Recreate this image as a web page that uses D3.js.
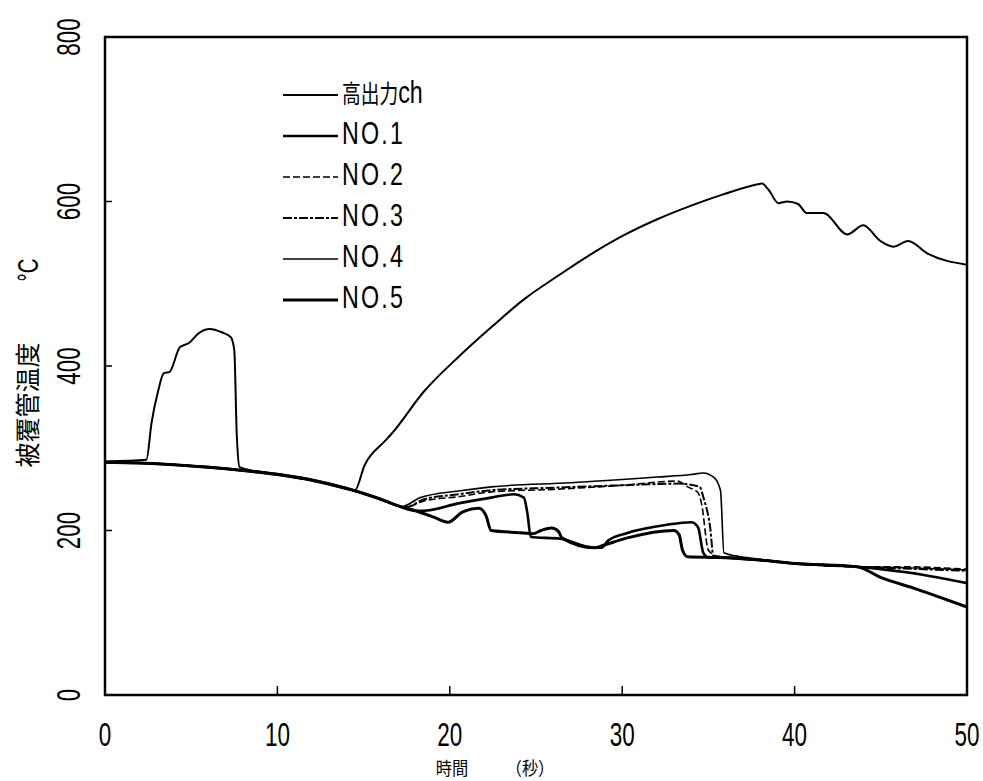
<!DOCTYPE html>
<html>
<head>
<meta charset="utf-8">
<script src="https://cdn.jsdelivr.net/npm/d3@7"></script>
<style>
  html, body { margin: 0; padding: 0; background: #fff; }
  svg { display: block; }
  .num { font-family: "Liberation Sans", "DejaVu Sans", sans-serif; fill: #000; }
  .jp { font-family: "Noto Sans CJK JP", "Noto Sans", sans-serif; fill: #000; }
</style>
</head>
<body>
<svg id="chart" width="983" height="781"></svg>
<script>
// ---- data (time s, cladding temp °C) ----
const xTicks = [0, 10, 20, 30, 40, 50];
const yTicks = [0, 200, 400, 600, 800];

const legendNames = ['高出力ch', 'NO.1', 'NO.2', 'NO.3', 'NO.4', 'NO.5'];

const hcTime = [0, 2.4, 2.7, 3.1, 3.4, 3.75, 4.35, 4.87, 5.44, 6.08, 6.77, 7.3, 7.5, 7.64, 7.81, 8.3, 10, 12, 14, 14.5,
  15.05, 16.2, 16.6, 18.5, 20.5, 22.4, 24.3, 26.3, 28.2, 30.1, 32.1, 34, 35.9, 37.85, 38.1, 38.5, 39.06, 39.58, 40.2, 40.7,
  41.67, 43.06, 43.98, 44.97, 45.72, 46.59, 47.69, 50];
const hcTemp = [284, 286, 331, 371, 391, 393, 423, 428, 440, 445, 441, 435, 419, 318, 277, 274, 269, 262, 252, 249,
  279, 308, 317, 369, 411, 447, 481, 510, 536, 559, 579, 595, 609, 621, 622, 614, 598, 600, 597, 586,
  586, 560, 571, 552, 545, 552, 537, 523];

const no1Time = [0, 2, 4, 6, 8, 10, 12, 14, 15, 16, 17, 18, 18.5, 20.5, 22.4, 23.7, 24.3, 24.5, 24.7, 26.4, 28.4, 28.8,
  29.2, 30.3, 32.6, 34, 34.4, 34.7, 35, 36, 38, 40, 43.6, 45, 47.5, 50];
const no1Temp = [283, 282, 280, 277, 273, 268, 261, 251, 245, 238, 230, 224, 224, 233, 240, 244, 240, 221, 192, 190, 179, 179,
  188, 197, 207, 210, 204, 173, 167, 167, 164, 160, 156, 153, 146, 136];

const no2Time = [0, 2, 4, 6, 8, 10, 12, 14, 15, 16, 17, 17.4, 18.5, 20.5, 22.4, 26, 30, 33.2, 33.8, 34.4, 34.6, 35.0,
  35.5, 37, 40, 43.5, 46, 50];
const no2Temp = [283, 282, 280, 277, 273, 268, 261, 251, 245, 238, 230, 228, 236, 241, 247, 250, 255, 260, 253, 246, 233, 176,
  169, 166, 160, 156, 156, 153];

const no3Time = [0, 2, 4, 6, 8, 10, 12, 14, 15, 16, 17, 17.4, 18.5, 20.5, 22.4, 26, 30, 33.3, 34.5, 34.7, 35.1, 35.3,
  36, 38, 40, 43.5, 46, 50];
const no3Temp = [283, 282, 280, 277, 273, 268, 261, 251, 245, 238, 230, 228, 238, 244, 249, 252, 255, 257, 253, 241, 204, 168,
  167, 164, 160, 156, 154, 151];

const no4Time = [0, 2, 4, 6, 8, 10, 12, 14, 15, 16, 17, 17.2, 18.3, 20.5, 22.4, 27, 30, 32, 34, 34.7, 35.3, 35.7, 35.9,
  36.9, 38, 40, 43.5, 46, 50];
const no4Temp = [283, 282, 280, 277, 273, 268, 261, 251, 245, 238, 230, 229, 240, 248, 253, 258, 262, 265, 268, 270, 265, 249, 173,
  168, 165, 160, 156, 155, 152];

const no5Time = [0, 2, 4, 6, 8, 10, 12, 14, 15, 16, 17, 18, 19.1, 19.9, 20.7, 21.7, 22.1, 22.4, 24.3, 24.8, 25.3, 25.9,
  26.3, 26.5, 28.4, 28.9, 30.3, 33, 33.3, 33.5, 33.8, 36, 38, 40, 43.6, 45.1, 46.9, 48.4, 50];
const no5Temp = [283, 282, 280, 277, 273, 268, 261, 251, 245, 238, 230, 224, 216, 210, 222, 227, 218, 200, 197, 196, 200, 203,
  199, 191, 179, 182, 191, 200, 195, 176, 168, 167, 164, 160, 156, 142, 130, 119, 107];

// ---- series styles ----
const series = [
  { name: legendNames[0], t: hcTime, v: hcTemp, w: 2, dash: null },
  { name: legendNames[1], t: no1Time, v: no1Temp, w: 2.6, dash: null },
  { name: legendNames[2], t: no2Time, v: no2Temp, w: 1.6, dash: '7 3' },
  { name: legendNames[3], t: no3Time, v: no3Temp, w: 2, dash: '9 2 3 2' },
  { name: legendNames[4], t: no4Time, v: no4Temp, w: 1.6, dash: null },
  { name: legendNames[5], t: no5Time, v: no5Temp, w: 3, dash: null },
];

const NARROW = 0.68; // condensed look of the original lettering

const svg = d3.select('#chart');
const x = d3.scaleLinear().domain([0, 50]).range([105, 967]);
const y = d3.scaleLinear().domain([0, 800]).range([695, 37]);

// plot lines
const line = d3.line().x(d => x(d[0])).y(d => y(d[1])).curve(d3.curveMonotoneX);
const lines = svg.append('g').attr('id', 'lines');
series.forEach(s => {
  lines.append('path')
    .datum(s.t.map((t, i) => [t, s.v[i]]))
    .attr('d', line)
    .attr('fill', 'none')
    .attr('stroke', '#000')
    .attr('stroke-width', s.w)
    .attr('stroke-dasharray', s.dash)
    .attr('stroke-linejoin', 'round');
});

// frame + inward ticks
svg.append('rect')
  .attr('x', x(0)).attr('y', y(800))
  .attr('width', x(50) - x(0)).attr('height', y(0) - y(800))
  .attr('fill', 'none').attr('stroke', '#000').attr('stroke-width', 2.5);

const ax = svg.append('g').attr('id', 'axes');
xTicks.filter(v => v > 0 && v < 50).forEach(v => {
  ax.append('line').attr('x1', x(v)).attr('x2', x(v)).attr('y1', y(0)).attr('y2', y(0) - 9)
    .attr('stroke', '#000').attr('stroke-width', 1.5);
});
yTicks.filter(v => v > 0 && v < 800).forEach(v => {
  ax.append('line').attr('x1', x(0)).attr('x2', x(0) + 7).attr('y1', y(v)).attr('y2', y(v))
    .attr('stroke', '#000').attr('stroke-width', 1.5);
});

// tick labels
xTicks.forEach(v => {
  ax.append('text').attr('class', 'num')
    .attr('transform', `translate(${x(v)},746) scale(${NARROW},1)`)
    .attr('text-anchor', 'middle').attr('font-size', 33)
    .text(v);
});
yTicks.forEach(v => {
  ax.append('text').attr('class', 'num')
    .attr('transform', `translate(80,${y(v)}) rotate(-90) scale(${NARROW},1)`)
    .attr('text-anchor', 'middle').attr('font-size', 33)
    .text(v);
});

// axis titles
ax.append('text').attr('class', 'jp')
  .attr('transform', 'translate(452,775) scale(0.9,1)')
  .attr('text-anchor', 'middle').attr('font-size', 18)
  .text('時間');
ax.append('text').attr('class', 'jp')
  .attr('transform', 'translate(530,775) scale(0.9,1)')
  .attr('text-anchor', 'middle').attr('font-size', 18)
  .text('（秒）');
ax.append('text').attr('class', 'jp')
  .attr('transform', 'translate(37,405) rotate(-90)')
  .attr('text-anchor', 'middle').attr('font-size', 25)
  .text('被覆管温度');
ax.append('text').attr('class', 'num')
  .attr('transform', `translate(38,270) rotate(-90) scale(${NARROW},1)`)
  .attr('text-anchor', 'middle').attr('font-size', 30)
  .text('°C');

// legend
const legendY = d3.scaleLinear().domain([0, 5]).range([95, 300]);
const lg = svg.append('g').attr('id', 'legend');
series.forEach((s, i) => {
  const yy = legendY(i);
  lg.append('line').attr('x1', 283).attr('x2', 338).attr('y1', yy).attr('y2', yy)
    .attr('stroke', '#000').attr('stroke-width', s.w).attr('stroke-dasharray', s.dash);
  const t = lg.append('text')
    .attr('transform', `translate(342,${yy - 3}) scale(0.75,1)`)
    .attr('dominant-baseline', 'central');
  if (i === 0) {
    t.append('tspan').attr('class', 'jp').attr('font-size', 25).text('高出力');
    t.append('tspan').attr('class', 'num').attr('font-size', 31).text('ch');
  } else {
    t.attr('class', 'num').attr('font-size', 31).attr('letter-spacing', 3).text(s.name);
  }
});
</script>
</body>
</html>
